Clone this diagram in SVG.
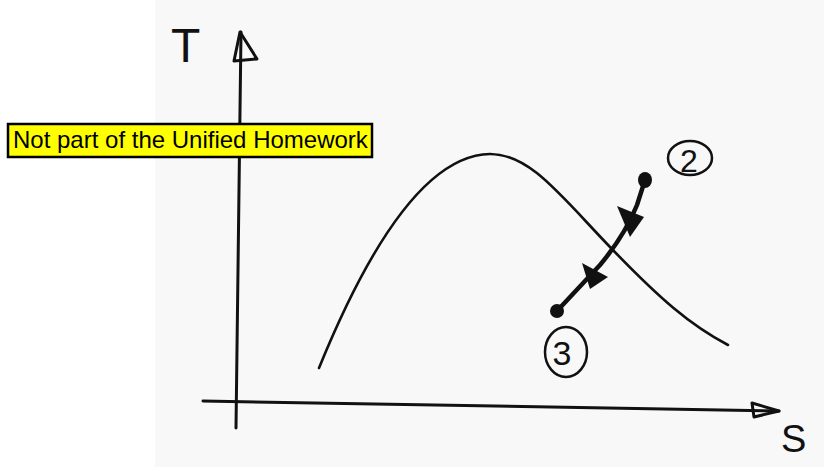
<svg xmlns="http://www.w3.org/2000/svg" width="824" height="467" viewBox="0 0 824 467">
<style>
.ink{fill:none;stroke:#111;stroke-linecap:round;stroke-linejoin:round}
.hand{font-family:"Liberation Sans",Arial,sans-serif;fill:#111}
.lbl{font-family:"Liberation Sans",Arial,sans-serif;font-size:24px;fill:#000}
</style>
<rect x="0" y="0" width="824" height="467" fill="#ffffff"/>
<rect x="155" y="0" width="669" height="467" fill="#f8f8f8"/>
<g id="axes">
<path class="ink" stroke-width="3" d="M241,32 L236,428"/>
<path class="ink" stroke-width="3" d="M240,32 L234,61 L257,59 Z"/>
<path class="ink" stroke-width="3" d="M203,401 L779,411"/>
<path class="ink" stroke-width="3" d="M752,403 L779,411 L754,417 Z"/>
<text class="hand" x="171" y="62" font-size="48">T</text>
<text class="hand" x="781" y="452" font-size="38">S</text>
</g>
<g id="dome">
<path class="ink" stroke-width="2.6" d="M319,368 C372,238 430,155 490,154 C530,154 560,195 610,247 S690,325 728,345"/>
</g>
<g id="connectors">
<path class="ink" stroke-width="4.5" d="M645,180 L637,205 Q625,235 600,265 L557,311"/>
<polygon points="617,206 644,217 630,237" fill="#111"/>
<polygon points="582,263 608,277 590,289" fill="#111"/>
</g>
<g id="state2">
<ellipse cx="645" cy="180" rx="7" ry="8" fill="#111"/>
<ellipse class="ink" stroke-width="2.5" cx="690" cy="158" rx="22" ry="17"/>
<text class="hand" x="689" y="172" font-size="32" text-anchor="middle">2</text>
</g>
<g id="state3">
<circle cx="557" cy="311" r="7" fill="#111"/>
<ellipse class="ink" stroke-width="2.5" cx="566" cy="352" rx="21" ry="25"/>
<text class="hand" x="562" y="365" font-size="34" text-anchor="middle">3</text>
</g>
<g id="note">
<rect x="8" y="124" width="364" height="33" fill="#ffff00" stroke="#000" stroke-width="2.5"/>
<text class="lbl" x="13" y="148">Not part of the Unified Homework</text>
</g>
</svg>
